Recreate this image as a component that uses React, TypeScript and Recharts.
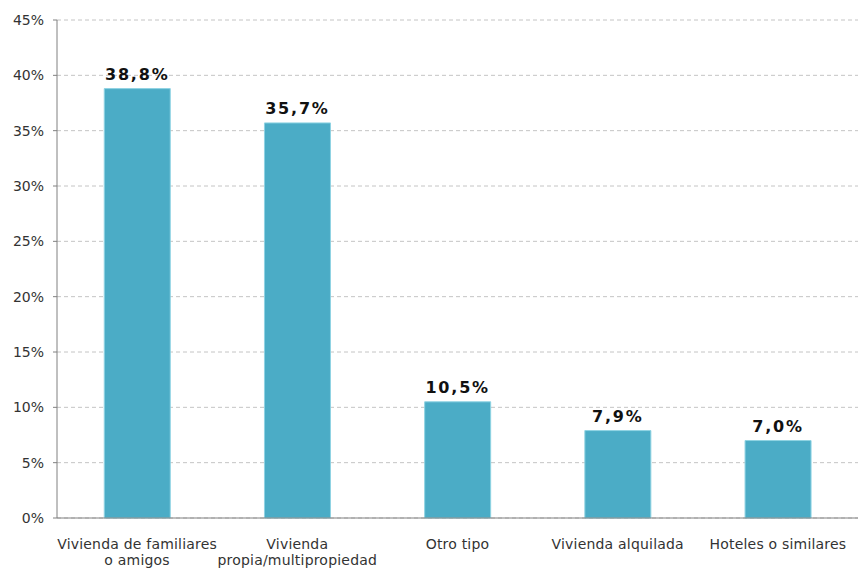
import React from "react";
import { BarChart, Bar, XAxis, YAxis, CartesianGrid, LabelList } from "recharts";

const categories = [
  "Vivienda de familiares\no amigos",
  "Vivienda\npropia/multipropiedad",
  "Otro tipo",
  "Vivienda alquilada",
  "Hoteles o similares",
];
const values = [38.8, 35.7, 10.5, 7.9, 7.0];
const yTicks = [0, 5, 10, 15, 20, 25, 30, 35, 40, 45];

const data = categories.map((c, i) => ({ name: c, value: values[i] }));

const FONT = "'DejaVu Sans', Verdana, sans-serif";

const XTick = (props: any) => {
  const { x, y, payload } = props;
  const lines = String(payload.value).split("\n");
  return (
    <text x={x} y={y} textAnchor="middle" fontFamily={FONT} fontSize={14} fill="#333" letterSpacing={0.2}>
      {lines.map((l: string, i: number) => (
        <tspan key={i} x={x} dy={i === 0 ? 23 : 16}>
          {l}
        </tspan>
      ))}
    </text>
  );
};

export default function App() {
  return (
    <div style={{ position: "absolute", left: 0, top: 0, background: "#fff" }}>
      <BarChart
        width={859}
        height={568}
        data={data}
        margin={{ top: 20, right: 1, bottom: 0, left: 0 }}
        barCategoryGap="29.5%"
      >
        <CartesianGrid vertical={false} stroke="#c4c4c4" strokeDasharray="4 3" />
        <XAxis
          dataKey="name"
          height={50}
          tick={<XTick />}
          tickLine={false}
          axisLine={{ stroke: "#808080" }}
          interval={0}
        />
        <YAxis
          width={57}
          domain={[0, 45]}
          ticks={yTicks}
          tickFormatter={(v: number) => `${v}%`}
          tick={{ fontFamily: FONT, fontSize: 14, fill: "#333" }}
          tickSize={4}
          tickMargin={9}
          tickLine={{ stroke: "#808080" }}
          axisLine={{ stroke: "#808080" }}
          interval={0}
        />
        <Bar dataKey="value" fill="#4BACC6" stroke="#8fd3e3" strokeWidth={1} isAnimationActive={false}>
          <LabelList
            dataKey="value"
            position="top"
            offset={9}
            formatter={(v: number) => `${v.toFixed(1).replace(".", ",")}%`}
            style={{ fontFamily: FONT, fontSize: 16, fontWeight: 700, fill: "#111", letterSpacing: 1.8 }}
          />
        </Bar>
      </BarChart>
    </div>
  );
}
